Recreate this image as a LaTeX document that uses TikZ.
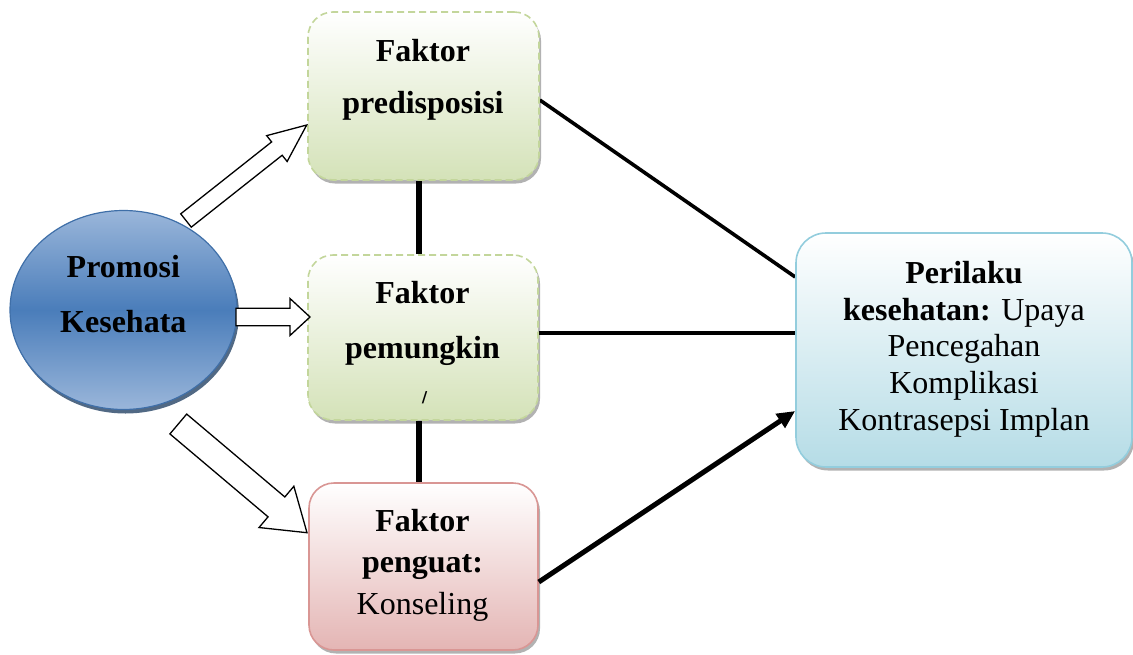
\documentclass[tikz,border=0pt]{standalone}
\usepackage{fontspec}
\setmainfont{Liberation Serif}
\newfontfamily\dejavu{DejaVu Sans}
\usetikzlibrary{shapes.geometric,shadows,calc,arrows.meta,backgrounds}
\definecolor{ellTop}{HTML}{9AB6DA}
\definecolor{ellMid}{HTML}{4A7DBA}
\definecolor{ellBorder}{HTML}{3F6FA8}
\definecolor{grnFill}{HTML}{D4E2B8}
\definecolor{grnLine}{HTML}{C3D69B}
\definecolor{pinkFill}{HTML}{E4B5B4}
\definecolor{pinkLine}{HTML}{D99694}
\definecolor{blueFill}{HTML}{B5DCE6}
\definecolor{blueLine}{HTML}{93CDDD}
\newcommand\blkarrow[5]{%
  \coordinate (hb) at ($(#2)!#5!(#1)$);
  \draw[blockarrow] ($(#1)!#3!90:(#2)$) -- ($(hb)!#3!90:(#2)$) -- ($(hb)!#4!90:(#2)$) -- (#2)
    -- ($(hb)!#4!-90:(#2)$) -- ($(hb)!#3!-90:(#2)$) -- ($(#1)!#3!-90:(#2)$) -- cycle;}
\begin{document}
\begin{tikzpicture}[x=1pt,y=-1pt,
  shadowed/.style={drop shadow={shadow xshift=2pt,shadow yshift=-3.5pt,fill=black,opacity=0.3}},
  gbox/.style={shadowed,rounded corners=25pt,inner sep=0pt,draw=grnLine,line width=1.6pt,
    dash pattern=on 7pt off 4pt,top color=white,bottom color=grnFill},
  pbox/.style={shadowed,rounded corners=25pt,inner sep=0pt,draw=pinkLine,line width=1.6pt,
    top color=white,bottom color=pinkFill},
  bbox/.style={shadowed,rounded corners=30pt,inner sep=0pt,draw=blueLine,line width=1.6pt,
    top color=white,bottom color=blueFill},
  ell/.style={ellipse,inner sep=0pt,draw=ellBorder,line width=1.2pt,
    top color=ellTop,bottom color=ellTop,middle color=ellMid,
    drop shadow={shadow xshift=2pt,shadow yshift=-4pt,fill=ellBorder!60!black,opacity=0.8}},
  txt/.style={align=center,inner sep=0pt},
  link/.style={line width=3.6pt,black},
  vlink/.style={line width=6pt,black},
  blockarrow/.style={draw=black,fill=white,line width=1.3pt,line join=miter}]
\useasboundingbox (0,0) rectangle (1133,654);

% nodes
\node[ell,minimum width=227pt,minimum height=199pt] (pk) at (123.5,310) {};
\node[gbox,minimum width=231pt,minimum height=168pt] (b1) at (423.5,96) {};
\node[gbox,minimum width=230pt,minimum height=165pt] (b2) at (423,337.5) {};
\node[pbox,minimum width=229pt,minimum height=167pt] (b3) at (423.5,566.5) {};
\node[bbox,minimum width=336pt,minimum height=234pt] (rb) at (964,350) {};

% texts
\node[txt,font=\fontsize{32}{55}\selectfont\bfseries] (t5) at (123.3,293.9) {Promosi\\Kesehata};
\node[txt,font=\fontsize{32}{52.3}\selectfont\bfseries] (t1) at (423,79.7) {Faktor\\predisposisi};
\node[txt,font=\fontsize{32}{55.6}\selectfont\bfseries] (t2) at (422.5,323.3) {Faktor\\pemungkin};
\node[txt,font=\dejavu\bfseries\fontsize{15}{15}\selectfont] (t2b) at (424.5,398) {/};
\node[txt,font=\fontsize{32}{41.65}\selectfont] (t3) at (422.5,565.2) {\textbf{Faktor}\\\textbf{penguat:}\\Konseling};
\node[txt,font=\fontsize{32}{36.8}\selectfont] (t4) at (964,349.2)
  {\textbf{Perilaku}\\\textbf{kesehatan:} Upaya\\Pencegahan\\Komplikasi\\Kontrasepsi Implan};

% connectors
\begin{scope}[on background layer]
\draw[vlink] (b1.south -| 419,0) -- (b2.north -| 419,0);
\draw[vlink] (b2.south -| 419,0) -- (b3.north -| 419,0);
\draw[link] (b1.east |- 0,100) -- (rb.west |- 0,277);
\draw[line width=4pt] (b2.east |- 0,333) -- (rb.west |- 0,333);
\end{scope}
\draw[line width=5pt,-{Triangle[length=18pt,width=16pt]}] (b3.east |- 0,582) -- (rb.west |- 0,411);

% block arrows
\coordinate (a1s) at (186,220.5);
\coordinate (a1e) at (306.7,125);
\coordinate (a2s) at (236,317);
\coordinate (a2e) at (310,317);
\coordinate (a3s) at (178.3,424);
\coordinate (a3e) at (307,532.7);
\blkarrow{a1s}{a1e}{8.5pt}{16.5pt}{38pt}
\blkarrow{a2s}{a2e}{8.7pt}{18.5pt}{20pt}
\blkarrow{a3s}{a3e}{13pt}{27pt}{40pt}
\end{tikzpicture}
\end{document}
